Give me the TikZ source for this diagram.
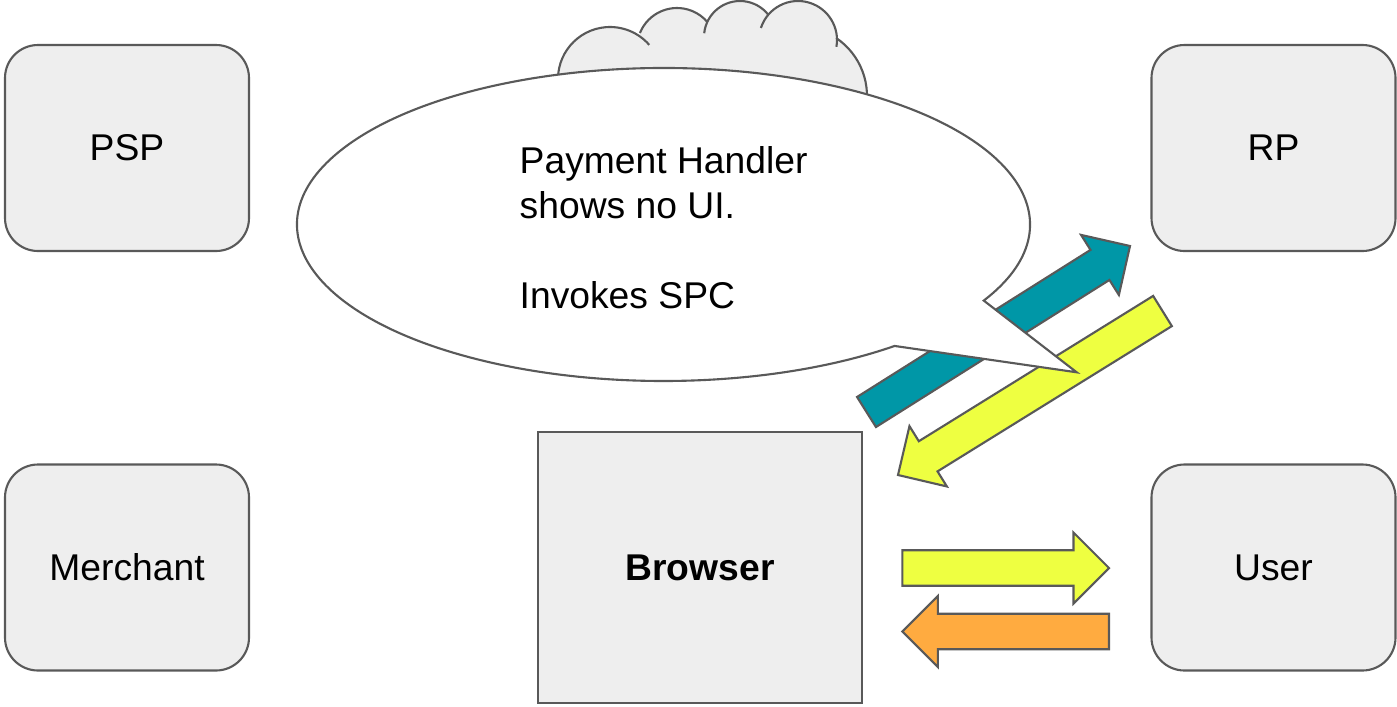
\documentclass[tikz,border=0pt]{standalone}
\usepackage{fontspec}
\setmainfont{Liberation Sans}
\definecolor{boxgrey}{HTML}{EEEEEE}
\definecolor{edgegrey}{HTML}{595959}
\definecolor{spcteal}{HTML}{0097A7}
\definecolor{spclime}{HTML}{EEFF41}
\definecolor{spcorange}{HTML}{FFAB40}
\usetikzlibrary{calc}

% fat block arrow from coordinate #2 to coordinate #3, style #1
\newcommand{\blockarrow}[3]{%
  \coordinate (#2-base) at ($(#3)!0.355cm!(#2)$);
  \draw[#1] ($(#2)!0.1775cm!90:(#3)$)
    -- ($(#2-base)!0.1775cm!90:(#3)$)
    -- ($(#2-base)!0.355cm!90:(#3)$)
    -- (#3)
    -- ($(#2-base)!0.355cm!-90:(#3)$)
    -- ($(#2-base)!0.1775cm!-90:(#3)$)
    -- ($(#2)!0.1775cm!-90:(#3)$)
    -- cycle;
}

\begin{document}
\begin{tikzpicture}[
    every node/.append style={font=\fontsize{10.6}{12.8}\selectfont},
  ]

  \tikzset{
    party/.style={
      fill=boxgrey, draw=edgegrey, line width=0.6pt,
      rounded corners=0.33cm, inner sep=0pt,
      minimum width=2.44cm, minimum height=2.06cm,
    },
    browser-box/.style={
      party, sharp corners, minimum width=3.24cm, minimum height=2.71cm,
      font=\fontsize{10.6}{12.8}\selectfont\bfseries,
    },
    cloud-fill/.style={fill=boxgrey, draw=none},
    cloud-edge/.style={draw=edgegrey, line width=0.6pt},
    bubble/.style={fill=white, draw=edgegrey, line width=0.6pt},
    bubble-text/.style={align=left, inner sep=0pt},
    arrow-teal/.style={fill=spcteal, draw=edgegrey, line width=0.6pt},
    arrow-lime/.style={fill=spclime, draw=edgegrey, line width=0.6pt},
    arrow-orange/.style={fill=spcorange, draw=edgegrey, line width=0.6pt},
  }

  \useasboundingbox (0,0) rectangle (13.97,7.06);

  %% ---------------- CLOUD (behind the bubble) ----------------
  \fill[cloud-fill] (6.10,6.27) circle[radius=0.52]
    (6.77,6.58) circle[radius=0.40] (7.40,6.69) circle[radius=0.36]
    (7.98,6.66) circle[radius=0.39] (7.97,6.10) circle[radius=0.70];
  % plug the gaps between the puffs
  \fill[cloud-fill] (6.10,6.27) -- (6.77,6.58) -- (7.40,6.69) -- (7.98,6.66)
    -- (7.97,6.10) -- (7.97,5.60) -- (6.10,5.60) -- cycle;
  \draw[cloud-edge] (6.10,6.27) ++(185:0.52) arc[start angle=185, end angle=41, radius=0.52];
  \draw[cloud-edge] (6.77,6.58) ++(158:0.40) arc[start angle=158, end angle=40, radius=0.40];
  \draw[cloud-edge] (7.40,6.69) ++(174:0.36) arc[start angle=174, end angle=38, radius=0.36];
  \draw[cloud-edge] (7.98,6.66) ++(162:0.39) arc[start angle=162, end angle=-10, radius=0.39];
  \draw[cloud-edge] (7.97,6.10) ++(56:0.70) arc[start angle=56, end angle=-15, radius=0.70];

  %% ---------------- BROWSER <-> RP ----------------
  \coordinate (teal-s) at (8.665,2.94);
  \coordinate (teal-e) at (11.30,4.60);
  \coordinate (lime-s) at (11.625,3.95);
  \coordinate (lime-e) at (8.98,2.31);
  \blockarrow{arrow-teal}{teal-s}{teal-e}
  \blockarrow{arrow-lime}{lime-s}{lime-e}

  %% ---------------- SPEECH BUBBLE ----------------
  \coordinate (bubble-c) at (6.635,4.815);
  \coordinate (bubble-tip) at (10.767,3.337);
  \draw[bubble] ($(bubble-c)+(-29.09:3.665cm and 1.565cm)$)
    arc[start angle=-29.09, end angle=309.1, x radius=3.665, y radius=1.565]
    -- (bubble-tip) -- cycle;
  \node[bubble-text, anchor=west] (handler) at (5.19,4.786)
    {Payment Handler\\shows no UI.\\[12.8pt]Invokes SPC};

  %% ---------------- PARTIES ----------------
  \node[party] (psp) at (1.27,5.58) {PSP};
  \node[party] (merchant) at (1.27,1.385) {Merchant};
  \node[party] (rp) at (12.735,5.58) {RP};
  \node[party] (user) at (12.735,1.385) {User};
  \node[browser-box] (browser) at (7.00,1.385) {Browser};

  %% ---------------- BROWSER <-> USER ----------------
  \coordinate (prompt-s) at (9.023,1.38);
  \coordinate (prompt-e) at (11.09,1.38);
  \coordinate (answer-s) at (11.09,0.745);
  \coordinate (answer-e) at (9.023,0.745);
  \blockarrow{arrow-lime}{prompt-s}{prompt-e}
  \blockarrow{arrow-orange}{answer-s}{answer-e}

\end{tikzpicture}
\end{document}
